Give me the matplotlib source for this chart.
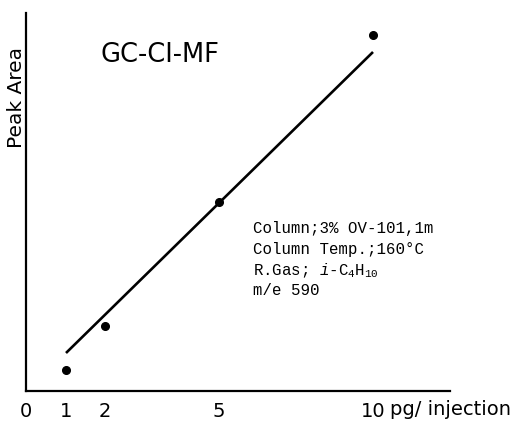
import numpy as np
import matplotlib
matplotlib.use("Agg")
import matplotlib.pyplot as plt

# amount injected (pg) and peak area (arbitrary units)
amount = [1, 2, 5, 10]
peak_area = [21, 65, 189, 356]

# calibration line end points
fit_x = [1, 10]
fit_y = [38, 339]

tick_vals = [0, 1, 2, 5, 10]
tick_labels = ["0", "1", "2", "5", "10"]

# the hand-drawn x axis is not evenly spaced: knots of a piecewise-linear scale
knot_data = [0, 1, 2, 5, 10, 12.5]
knot_draw = [0, 40, 79, 193, 347, 424]

conditions = [
    "Column;3% OV-101,1m",
    "Column Temp.;160\u00b0C",
    r"R.Gas; $i$-$\mathrm{C_4H_{10}}$",
    "m/e 590",
]

plt.rcParams["mathtext.fontset"] = "custom"
plt.rcParams["mathtext.rm"] = "Liberation Mono"
plt.rcParams["mathtext.it"] = "Liberation Mono:italic"

W, H = 512, 421
fig = plt.figure(figsize=(W / 100, H / 100), dpi=100)
ax = fig.add_axes([26 / W, 30 / H, 424 / W, 378 / H])


def fwd(x):
    return np.interp(x, knot_data, knot_draw)


def inv(x):
    return np.interp(x, knot_draw, knot_data)


ax.set_xscale("function", functions=(fwd, inv))
ax.set_xlim(0, 12.5)
ax.set_ylim(0, 378)

ax.plot(fit_x, fit_y, "-", color="black", lw=1.9, solid_capstyle="butt")
ax.plot(amount, peak_area, "o", color="black", ms=5.5)

for side in ("top", "right"):
    ax.spines[side].set_visible(False)
for side in ("left", "bottom"):
    ax.spines[side].set_linewidth(1.6)

ax.set_yticks([])
ax.set_xticks(tick_vals)
ax.set_xticklabels(tick_labels, fontsize=14)
ax.xaxis.set_minor_locator(matplotlib.ticker.NullLocator())
ax.tick_params(axis="x", length=0, pad=8)

fig.text(390 / W, 6 / H, "pg/ injection", fontsize=14, va="baseline", ha="left")
fig.text(17 / W, 1 - 98 / H, "Peak Area", fontsize=14.5, rotation=90,
         ha="center", va="center")
fig.text(100 / W, 1 - 62 / H, "GC-CI-MF", fontsize=18.5, va="baseline")

baselines = [233, 254, 275, 295]
for line, yb in zip(conditions, baselines):
    fig.text(253 / W, 1 - yb / H, line, fontsize=11.3,
             family="Liberation Mono", va="baseline")

fig.savefig("out.png", dpi=100)
